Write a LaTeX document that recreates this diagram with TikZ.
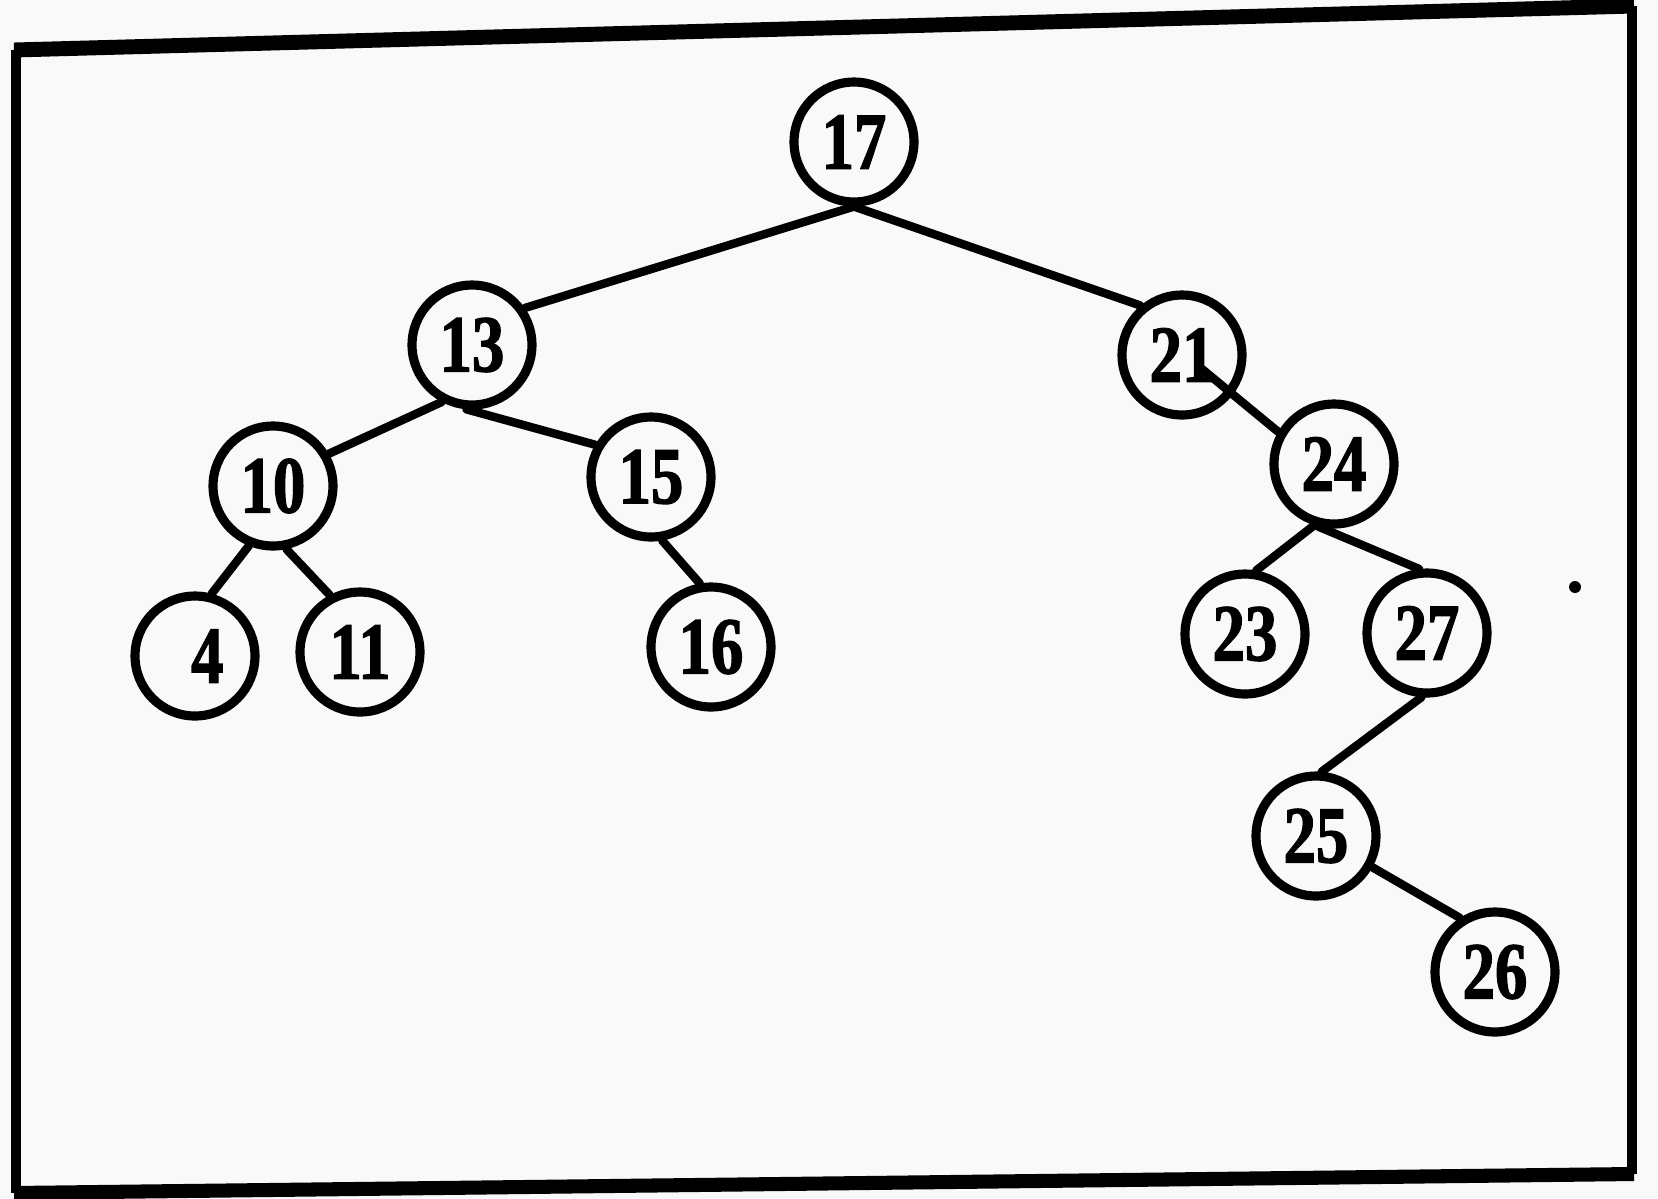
\documentclass[tikz,border=0pt]{standalone}
\usepackage{fontspec}
\setmainfont[FakeStretch=0.8,FakeBold=1.6]{Liberation Serif}
\definecolor{paper}{RGB}{250,249,250}
\begin{document}
\begin{tikzpicture}[x=0.02cm,y=-0.02cm,
  key/.style={circle, draw, line width=5.2pt, minimum size=2.4cm,
    inner sep=0pt, fill=paper,
    font=\fontsize{46}{46}\selectfont\bfseries},
  link/.style={line width=4.8pt, line cap=round},
  rim/.style={line width=#1, line cap=square}]
% paper and page size
\fill[paper] (0,0) rectangle (1658,1198);
\useasboundingbox (0,0) rectangle (1658,1198);

% hand-drawn frame (slightly skewed)
\draw[rim=8.5pt] (14,50) -- (1634,6);
\draw[rim=5.5pt] (16,50) -- (16,1193);
\draw[rim=5.5pt] (1632,6) -- (1632,1174);
\draw[rim=8pt] (14,1193) -- (1634,1174);

% keys of the search tree
\node[key] (n17) at (854,142) {17};
\node[key] (n13) at (472,345) {13};
\node[key] (n21) at (1182,355) {21};
\node[key] (n10) at (273,486) {10};
\node[key] (n15) at (651,477) {15};
\node[key] (n24) at (1334,464) {24};
\node[key] (n4)  at (195,656) {\hspace{14pt}\raisebox{-4pt}{4}};
\node[key] (n11) at (360,652) {11};
\node[key] (n16) at (711,647) {16};
\node[key] (n23) at (1245,634) {23};
\node[key] (n27) at (1427,633) {27};
\node[key] (n25) at (1316,836) {25};
\node[key] (n26) at (1495,972) {26};

% parent-child links
\draw[link] (n17.south) -- (n13.35);
\draw[link] (n17.south) -- (n21.130);
\draw[link] (n13.-118) -- (n10.30);
\draw[link] (n13.-95) -- (n15.150);
\draw[link] (n10.-112) -- (n4.75);
\draw[link] (n10.-78) -- (n11.118);
\draw[link] (n15.-80) -- (n16.100);
\draw[link] ([shift={(20,14)}]n21.center) -- (n24.150);
\draw[link] (n24.-108) -- (n23.80);
\draw[link] (n24.-104) -- (n27.97);
\draw[link] (n27.-95) -- (n25.85);
\draw[link] (n25.-29) -- (n26.123);

% stray ink dot
\fill (1575,587) circle[radius=6];
\end{tikzpicture}
\end{document}
